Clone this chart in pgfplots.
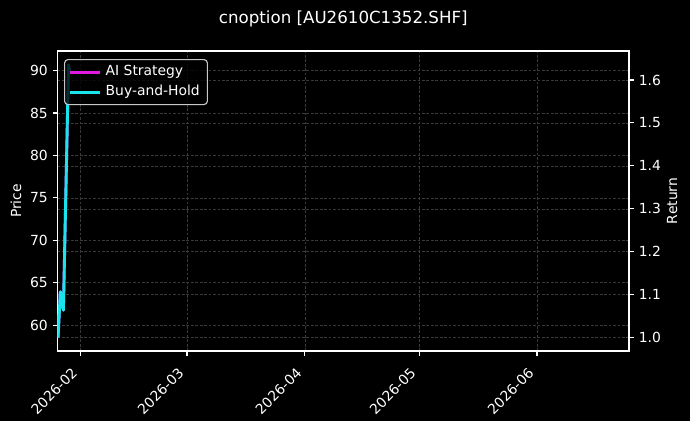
\documentclass[border=0pt]{standalone}
\usepackage{fontspec}
\setmainfont{DejaVu Sans}
\usepackage{pgfplots}
\usepackage{pgfplotstable}
\pgfplotsset{compat=1.18}

\definecolor{aimag}{RGB}{225,25,225}
\definecolor{bhcyan}{RGB}{25,228,235}
\definecolor{gridc}{RGB}{58,58,58}
\definecolor{legedge}{RGB}{200,200,200}

% return series (both strategies coincide), x = day of 2026 (Jan 1 = 0)
\pgfplotstableread{
day   ret
25.10 1.000
25.70 1.107
26.50 1.064
27.85 1.635
28.20 1.620
}\returns

\pgfplotsset{
  common/.style={
    scale only axis, width=411.5pt, height=216pt,
    at={(0,0)}, anchor=south west,
    xmin=24.95, xmax=175.2,
    font=\fontsize{10}{12}\selectfont,
    /pgf/number format/assume math mode=true,
    tick align=outside, major tick length=3.5pt,
    tick style={white, line width=0.8pt},
    axis line style={white, line width=0.8pt},
    ticklabel style={text=white},
    grid style={gridc, dash pattern=on 2pt off 1.2pt, line width=0.45pt},
  }
}

\begin{document}
\begin{tikzpicture}
\fill[black] (-41.4pt,-50.4pt) rectangle (455.4pt,252.7pt);
\path[use as bounding box] (-41.4pt,-50.4pt) rectangle (455.4pt,252.7pt);

% left axis: price
\begin{axis}[common,
  ymin=56.97, ymax=92.3,
  xtick={31,59,90,120,151},
  xticklabels={2026-02,2026-03,2026-04,2026-05,2026-06},
  xticklabel style={xshift=-7pt, yshift=-3pt, rotate=45, anchor=north east},
  ytick={60,65,70,75,80,85,90},
  xtick pos=bottom, ytick pos=left,
  grid=major,
  title={cnoption [AU2610C1352.SHF]},
  title style={at={(0.5,1)}, anchor=center, yshift=17.2pt,
    font=\fontsize{12}{14}\selectfont, text=white},
  ylabel={Price},
  every axis y label/.style={at={([xshift=-29.9pt]axis description cs:0,0.5)},
    rotate=90, anchor=center, text=white},
]
\end{axis}

% right axis: return
\begin{axis}[common,
  ymin=0.969, ymax=1.6675,
  axis x line=none, axis y line*=right,
  ytick={1.0,1.1,1.2,1.3,1.4,1.5,1.6},
  yticklabel style={/pgf/number format/.cd, fixed, fixed zerofill, precision=1},
  ymajorgrids=true,
  ylabel={Return},
  every axis y label/.style={at={([xshift=31pt]axis description cs:1,0.5)},
    rotate=90, anchor=center, text=white},
  legend cell align=left,
  legend image code/.code={\draw[#1] (0pt,0pt) -- (22pt,0pt);},
  legend style={at={([xshift=4.7pt,yshift=-5.8pt]axis description cs:0,1)},
    anchor=north west, draw=legedge, line width=0.8pt, fill=black,
    fill opacity=0.8, text opacity=1, rounded corners=2.5pt,
    text=white, font=\fontsize{10}{12}\selectfont,
    inner xsep=2.5pt, inner ysep=1.8pt,
    nodes={inner ysep=2.2pt, inner xsep=3pt, text height=7.5pt, text depth=2.5pt}},
]
\addplot[aimag, line width=2.1pt, line join=round] table[x=day, y=ret] {\returns};
\addlegendentry{AI Strategy}
\addplot[bhcyan, line width=2.1pt, line join=round] table[x=day, y=ret] {\returns};
\addlegendentry{Buy-and-Hold}
\end{axis}
\end{tikzpicture}
\end{document}
